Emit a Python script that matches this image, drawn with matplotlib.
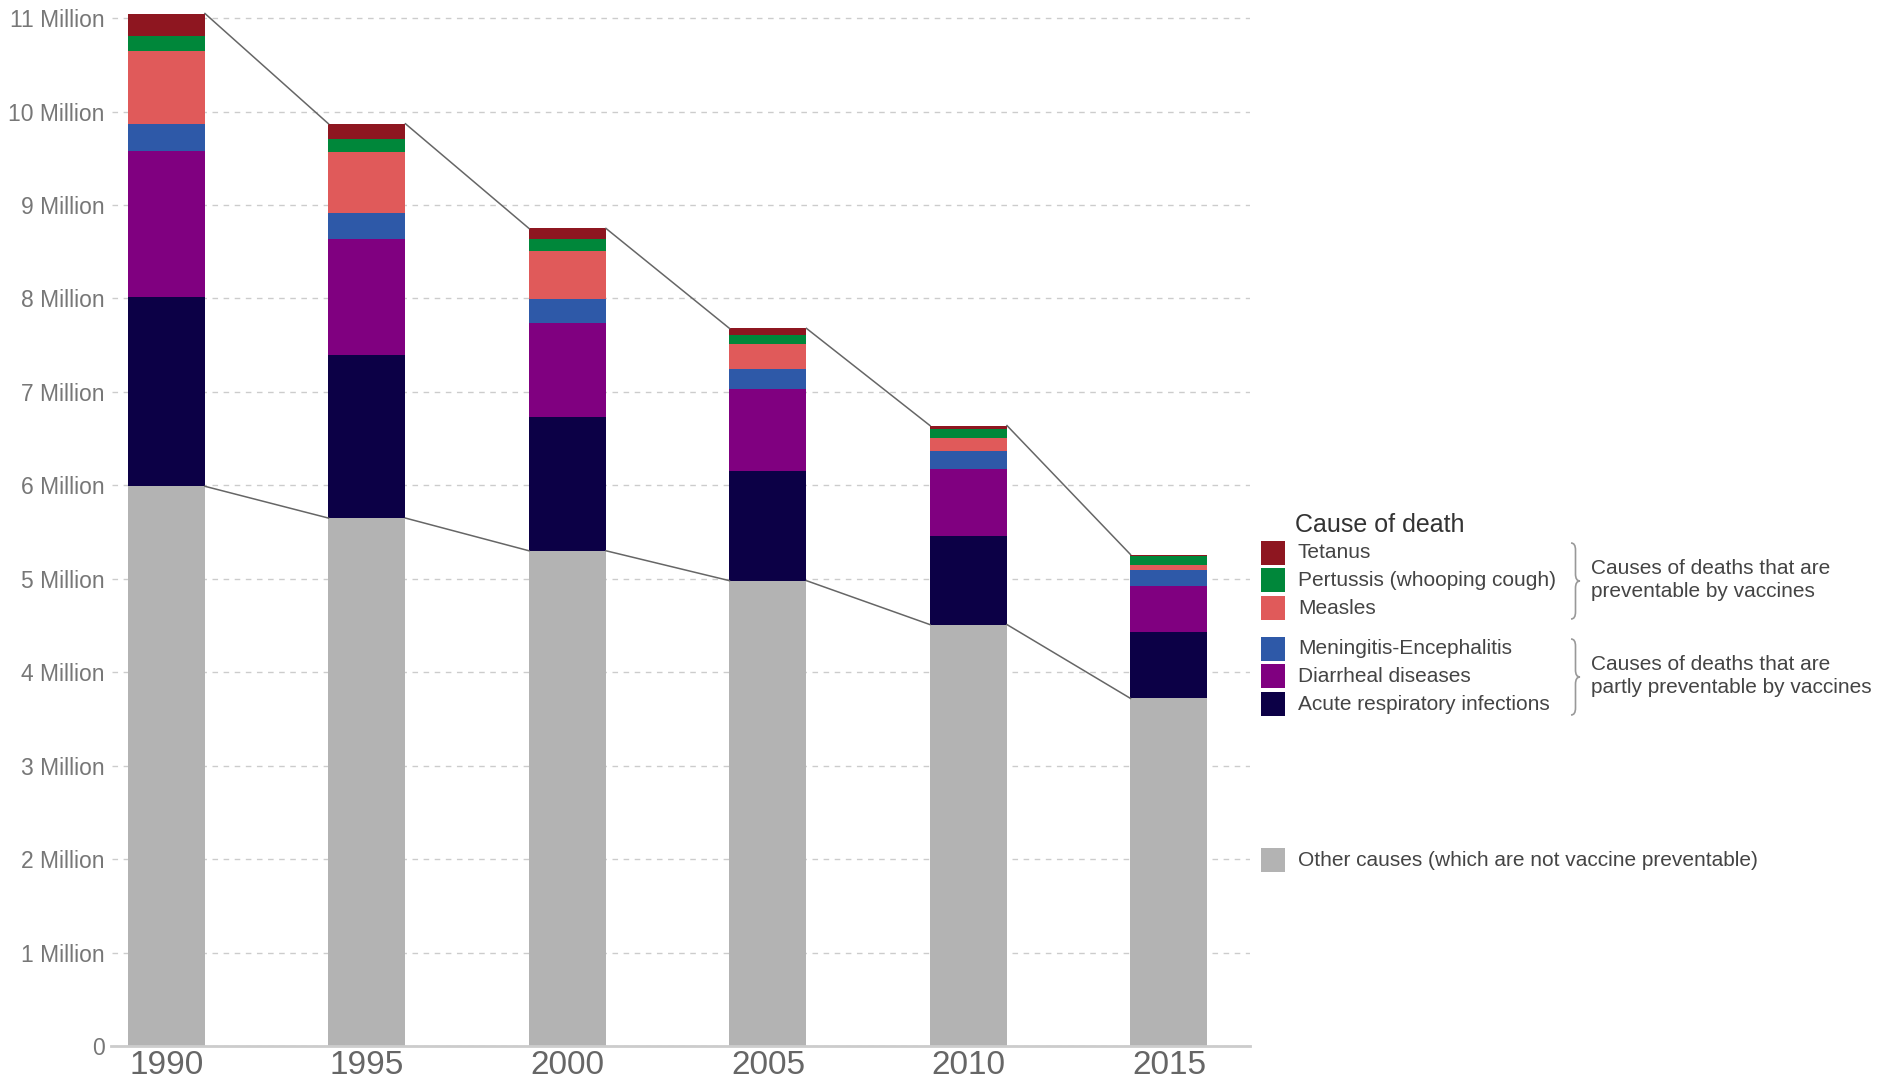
import matplotlib.pyplot as plt
from matplotlib.patches import Rectangle, PathPatch
from matplotlib.path import Path
import numpy as np

years = ['1990', '1995', '2000', '2005', '2010', '2015']

# deaths in million, bottom to top of each stack
other = [5.99, 5.65, 5.30, 4.98, 4.51, 3.72]
acute_resp = [2.03, 1.74, 1.43, 1.17, 0.95, 0.71]
diarrheal = [1.56, 1.25, 1.01, 0.88, 0.71, 0.49]
meningitis = [0.29, 0.27, 0.25, 0.22, 0.20, 0.17]
measles = [0.78, 0.66, 0.52, 0.26, 0.14, 0.06]
pertussis = [0.16, 0.14, 0.13, 0.10, 0.09, 0.09]
tetanus = [0.24, 0.16, 0.11, 0.07, 0.04, 0.02]

series = [other, acute_resp, diarrheal, meningitis, measles, pertussis, tetanus]
colors = ['#b3b3b3', '#0c0046', '#800080', '#2e59a8', '#e05a5a', '#00873a', '#8e1620']

legend_top = ['Tetanus', 'Pertussis (whooping cough)', 'Measles']
legend_mid = ['Meningitis-Encephalitis', 'Diarrheal diseases', 'Acute respiratory infections']
legend_other = 'Other causes (which are not vaccine preventable)'
group_labels = ['Causes of deaths that are\npreventable by vaccines',
                'Causes of deaths that are\npartly preventable by vaccines']

ytick_vals = list(range(0, 12))
ytick_labels = ['0'] + ['%d Million' % v for v in range(1, 12)]

W, H = 1880, 1084
plt.rcParams['font.family'] = ['Liberation Sans', 'DejaVu Sans']


def fig_xy(px, py):
    # pixel position (from top-left) -> figure fraction
    return px / W, 1 - py / H


def brace(fig, x0, y0, y1, width=9):
    xm = x0 + width * 0.5
    x1 = x0 + width
    ym = (y0 + y1) / 2
    r = 7
    pts = [(x0, y0), (xm, y0), (xm, y0 + r), (xm, ym - r), (xm, ym), (x1, ym),
           (xm, ym), (xm, ym + r), (xm, y1 - r), (xm, y1), (x0, y1)]
    codes = [Path.MOVETO, Path.CURVE3, Path.CURVE3, Path.LINETO, Path.CURVE3, Path.CURVE3,
             Path.CURVE3, Path.CURVE3, Path.LINETO, Path.CURVE3, Path.CURVE3]
    verts = [fig_xy(x, y) for x, y in pts]
    p = PathPatch(Path(verts, codes), facecolor='none', edgecolor='#999999', lw=1.2,
                  transform=fig.transFigure)
    fig.add_artist(p)


fig = plt.figure(figsize=(W / 100, H / 100), dpi=100)
ax = fig.add_axes([111.5 / W, 1 - 1046 / H, (1250 - 111.5) / W, (1046 - 10.7) / H])

x = np.arange(len(years))
bar_w = 0.384
bottom = np.zeros(len(years))
for vals, c in zip(series, colors):
    ax.bar(x, vals, bar_w, bottom=bottom, color=c, zorder=2)
    bottom = bottom + np.array(vals)

totals = bottom
other_arr = np.array(other)
for i in range(len(years) - 1):
    xs = [x[i] + bar_w / 2, x[i + 1] - bar_w / 2]
    ax.plot(xs, [totals[i], totals[i + 1]], color='#666666', lw=1.1, zorder=3)
    ax.plot(xs, [other_arr[i], other_arr[i + 1]], color='#666666', lw=1.1, zorder=3)

ax.set_xlim(-0.274, 5.404)
ax.set_ylim(0, 11.08)
ax.set_xticks(x)
ax.set_xticklabels(years, fontsize=24, color='#666666')
ax.set_yticks(ytick_vals)
ax.set_yticklabels(ytick_labels, fontsize=16.5, color='#777777')
ax.tick_params(axis='both', length=0)
ax.tick_params(axis='x', pad=3)
ax.tick_params(axis='y', pad=5)
for s in ['top', 'right', 'left']:
    ax.spines[s].set_visible(False)
ax.spines['bottom'].set_color('#cccccc')
ax.spines['bottom'].set_linewidth(2)
ax.yaxis.grid(True, linestyle=(0, (4, 4)), color='#cccccc', lw=1, zorder=0)
ax.set_axisbelow(True)

# legend drawn by hand
tx, ty = fig_xy(1295, 525)
fig.text(tx, ty, 'Cause of death', fontsize=18, color='#333333', va='center', ha='left')

rows = [(legend_top[0], colors[6], 553), (legend_top[1], colors[5], 580), (legend_top[2], colors[4], 608),
        (legend_mid[0], colors[3], 649), (legend_mid[1], colors[2], 676), (legend_mid[2], colors[1], 704),
        (legend_other, colors[0], 860)]
for label, c, py in rows:
    rx, ry = fig_xy(1261, py + 12)
    fig.add_artist(Rectangle((rx, ry), 24 / W, 24 / H, facecolor=c, edgecolor='none',
                             transform=fig.transFigure))
    lx, ly = fig_xy(1298, py)
    fig.text(lx, ly, label, fontsize=15, color='#444444', va='center', ha='left')

brace(fig, 1571, 543, 619)
brace(fig, 1571, 639, 715)
gx, gy = fig_xy(1591, 580)
fig.text(gx, gy, group_labels[0], fontsize=15, color='#444444', va='center', ha='left', linespacing=1.25)
gx, gy = fig_xy(1591, 676)
fig.text(gx, gy, group_labels[1], fontsize=15, color='#444444', va='center', ha='left', linespacing=1.25)

plt.savefig('out.png', dpi=100)
